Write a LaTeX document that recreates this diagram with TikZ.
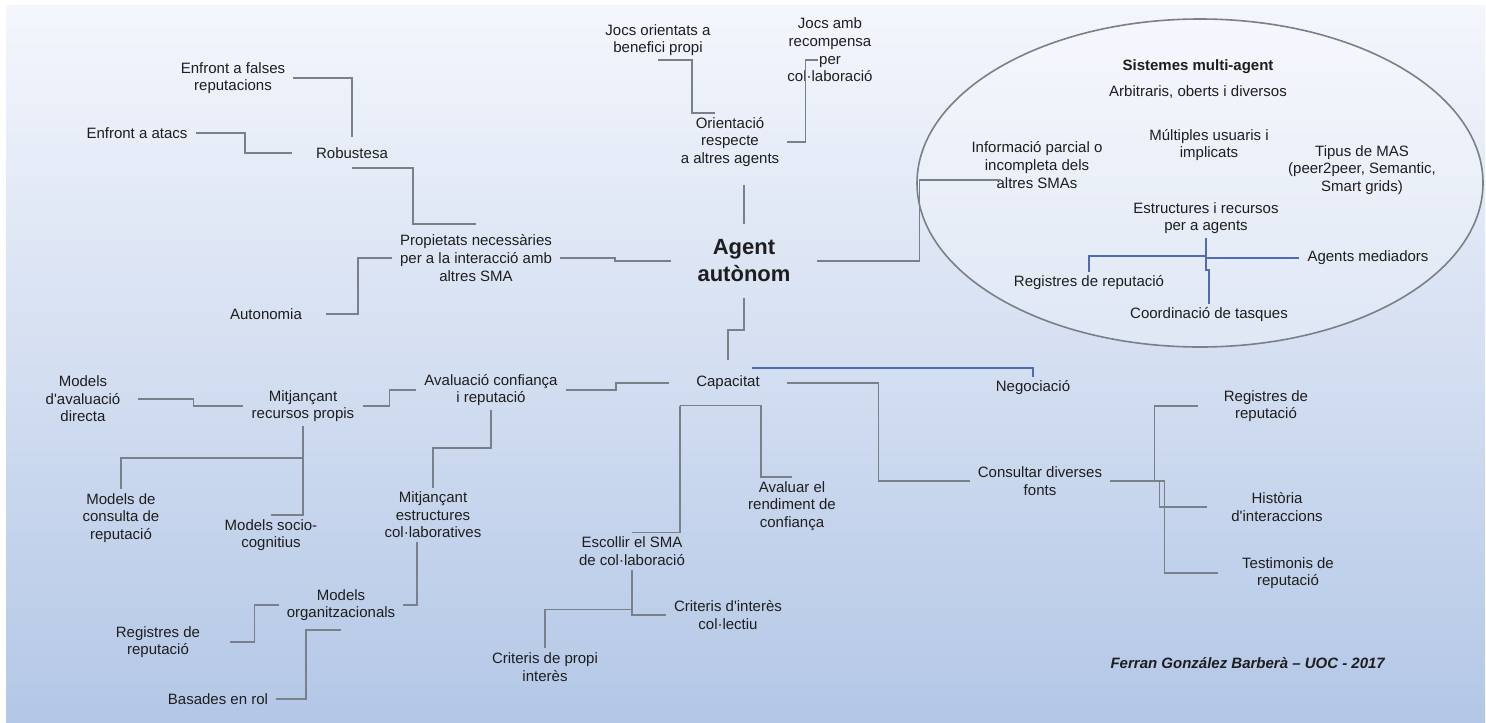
\documentclass[tikz,border=0pt]{standalone}
\usepackage{fontspec}
\setmainfont{Liberation Sans}[Ligatures=TeXOff]
\usepackage{tikz}
\usetikzlibrary{shapes.geometric}
\definecolor{bgtop}{RGB}{244,246,252}
\definecolor{bgbot}{RGB}{179,199,230}
\definecolor{linegray}{RGB}{122,128,136}
\definecolor{lineblue}{RGB}{78,108,178}
\definecolor{inkdark}{RGB}{30,30,30}

\begin{document}
\begin{tikzpicture}[
    x=0.75pt, y=-0.75pt,
    txt/.style={align=center, text=inkdark, inner xsep=6pt, inner ysep=3pt,
                font=\fontsize{11.25}{13.2}\selectfont},
    hub/.style={txt, inner xsep=20pt, inner ysep=11.5pt},
    conn/.style={draw=linegray, line width=1.2pt},
    blink/.style={draw=lineblue, line width=1.2pt},
]
\useasboundingbox (0,0) rectangle (1486,722);
\fill[white] (0,0) rectangle (1486,722);
\shade[top color=bgtop, bottom color=bgbot] (6,5) rectangle (1485,722);

\node[ellipse, draw=linegray, line width=1.2pt, fill=white, fill opacity=0.25,
      minimum width=424.5pt, minimum height=246pt, inner sep=0pt] (sma) at (1200,183) {};

\node[txt] (fal) at (233,78) {Enfront a falses\\reputacions};
\node[txt] (ata) at (137,133) {Enfront a atacs};
\node[txt] (rob) at (352,153) {Robustesa};
\node[txt] (prop) at (476,258) {Propietats necessàries\\per a la interacció amb\\altres SMA};
\node[txt] (auto) at (266,314) {Autonomia};
\node[txt] (jocb) at (658,40) {Jocs orientats a\\benefici propi};
\node[txt] (jocr) at (830,50) {Jocs amb\\recompensa\\per\\col·laboració};
\node[txt] (ori) at (730,142) {Orientació\\respecte\\a altres agents};
\node[hub, font=\fontsize{16.5}{20.25}\selectfont\bfseries] (agent) at (744,261) {Agent\\autònom};

\node[txt] (smat) at (1198,67) {\textbf{Sistemes multi-agent}};
\node[txt] (arb) at (1198,92) {Arbitraris, oberts i diversos};
\node[txt] (mult) at (1209,145) {Múltiples usuaris i\\implicats};
\node[txt] (info) at (1037,165) {Informació parcial o\\incompleta dels\\altres SMAs};
\node[txt] (tip) at (1362,170) {Tipus de MAS\\(peer2peer, Semantic,\\Smart grids)};
\node[txt] (est) at (1206,218) {Estructures i recursos\\per a agents};
\node[txt] (regs) at (1089,283) {Registres de reputació};
\node[txt] (agm) at (1368,258) {Agents mediadors};
\node[txt] (coo) at (1209,315) {Coordinació de tasques};

\node[hub] (cap) at (728,383) {Capacitat};
\node[txt] (neg) at (1033,388) {Negociació};
\node[txt] (aval) at (491,390) {Avaluació confiança\\i reputació};
\node[txt] (mrp) at (303,406) {Mitjançant\\recursos propis};
\node[txt] (mad) at (83,399) {Models\\d'avaluació\\directa};
\node[txt] (mcr) at (121,518) {Models de\\consulta de\\reputació};
\node[txt] (msc) at (271,535) {Models socio-\\cognitius};
\node[txt] (mec) at (433,515) {Mitjançant\\estructures\\col·laboratives};
\node[txt] (morg) at (341,605) {Models\\organitzacionals};
\node[txt] (rrep) at (158,642) {Registres de\\reputació};
\node[txt] (bas) at (218,699) {Basades en rol};
\node[txt] (avr) at (792,506) {Avaluar el\\rendiment de\\confiança};
\node[txt] (esc) at (632,551) {Escollir el SMA\\de col·laboració};
\node[txt] (cic) at (728,615) {Criteris d'interès\\col·lectiu};
\node[txt] (cpi) at (545,667) {Criteris de propi\\interès};
\node[txt] (cons) at (1040,481) {Consultar diverses\\fonts};
\node[txt] (rrc) at (1266,406) {Registres de\\reputació};
\node[txt] (his) at (1277,507) {Història\\d'interaccions};
\node[txt] (tes) at (1288,573) {Testimonis de\\reputació};
\node[txt] (sign) at (1248,663) {\textbf{\textit{Ferran González Barberà – UOC - 2017}}};

\draw[conn] (fal.east) -| ([yshift=5pt]rob.north);
\draw[conn] (ata.east) -- ++(49,0) |- ([xshift=-12pt]rob.west);
\draw[conn] ([yshift=-4pt]rob.south) -- ++(61,0) |- ([yshift=5pt]prop.north);
\draw[conn] (prop.east) -- ++(55,0) |- (agent.west);
\draw[conn] (auto.east) ++(16,0) -- ++(32,0) |- (prop.west);
\draw[conn] (jocb.south) -- ++(34,0) |- ([xshift=-11pt]ori.north);
\draw[conn] (ori.east) -- ++(18,0) |- ([shift={(-12,10)}]jocr.center);
\draw[conn] (ori.south -| agent.north) ++(0,14) -- (agent.north);
\draw[conn] (agent.east) -- ++(102,0) |- ([shift={(-36,15)}]info.center);
\draw[conn] (agent.south) -- ++(0,32) -| (cap.north);

\draw[blink] (est.south) -- ++(0,18) -| (regs.north);
\draw[blink] (est.south) |- (agm.west);
\draw[blink] (est.south) -- ++(0,32) -| (coo.north);
\draw[blink] ([shift={(24,-15)}]cap.center) -| (neg.north);

\draw[conn] (aval.east) -- ++(50,0) |- (cap.west);
\draw[conn] (cap.south) ++(-48,0) -- ++(81,0) |- (avr.north);
\draw[conn] (cap.south) ++(-48,0) |- (esc.north);
\draw[conn] (cap.east) -- ++(92,0) |- (cons.west);
\draw[conn] (cons.east) -- ++(44,0) |- ([xshift=-13pt]rrc.west);
\draw[conn] (cons.east) -- ++(49,0) |- ([xshift=-12pt]his.west);
\draw[conn] (cons.east) -- ++(54,0) |- ([xshift=-12pt]tes.west);

\draw[conn] (mrp.east) -- ++(27,0) |- (aval.west);
\draw[conn] (mad.east) ++(9,0) -- ++(56,0) |- (mrp.west);
\draw[conn] (mrp.south) |- (msc.north);
\draw[conn] (mrp.south) -- ++(0,32) -| (mcr.north);
\draw[conn] (aval.south) -- ++(0,38) -| (mec.north);
\draw[conn] ([xshift=-12pt]mec.south) |- (morg.east);
\draw[conn] (morg.west) -- ++(-24,0) |- ([xshift=16pt]rrep.east);
\draw[conn] (morg.south) ++(0,5) -- ++(-35,0) |- (bas.east);
\draw[conn] (esc.south) |- (cic.west);
\draw[conn] (esc.south) -- ++(0,40) -| (cpi.north);
\end{tikzpicture}
\end{document}
